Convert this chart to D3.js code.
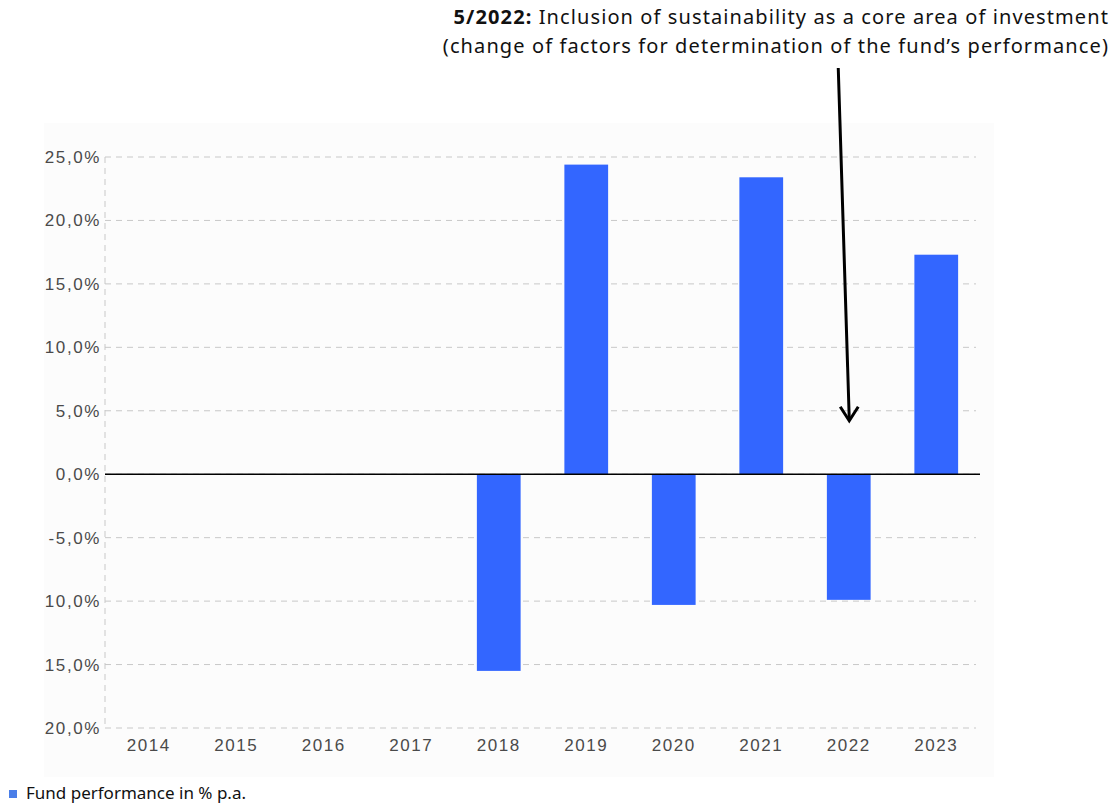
<!DOCTYPE html>
<html>
<head>
<meta charset="utf-8">
<script src="https://cdn.jsdelivr.net/npm/d3@7"></script>
<style>
  body { margin: 0; background: #fff; }
  svg { display: block; }
</style>
</head>
<body>
<div id="chart"></div>
<script>
const years = ["2014", "2015", "2016", "2017", "2018", "2019", "2020", "2021", "2022", "2023"];
const performance = [null, null, null, null, -15.5, 24.4, -10.3, 23.4, -9.9, 17.3];
const yTicks = [-20, -15, -10, -5, 0, 5, 10, 15, 20, 25];
const tickLabels = ["20,0%", "15,0%", "10,0%", "-5,0%", "0,0%", "5,0%", "10,0%", "15,0%", "20,0%", "25,0%"];
const noteBold = "5/2022:";
const noteLine1 = " Inclusion of sustainability as a core area of investment";
const noteLine2 = "(change of factors for determination of the fund\u2019s performance)";
const legendLabel = "Fund performance in % p.a.";
const noteYear = "2022";
const noteValue = 5;

const W = 1115, H = 805;
const margin = { top: 157, right: 135, bottom: 77, left: 105 };

const svg0 = d3.select("#chart").append("svg")
  .attr("width", W).attr("height", H);

// faint panel behind the plot
svg0.append("rect")
  .attr("x", 44).attr("y", 123).attr("width", 950).attr("height", 654)
  .attr("fill", "#fcfcfc");

const svg = svg0.append("g")
  .attr("transform", `translate(${margin.left},${margin.top})`);

const x = d3.scaleBand().domain(years).range([0, 875]).paddingInner(0.5).paddingOuter(0.25);
const y = d3.scaleLinear().domain([-20, 25]).range([571, 0]);

// grid
svg.append("g")
  .selectAll("line")
  .data(yTicks)
  .enter().append("line")
  .attr("x1", 0).attr("x2", 871)
  .attr("y1", d => y(d)).attr("y2", d => y(d))
  .attr("stroke", "#c8c8c8")
  .attr("stroke-dasharray", "6,5");

svg.append("line")
  .attr("x1", 0).attr("x2", 0)
  .attr("y1", y(25)).attr("y2", y(-20))
  .attr("stroke", "#c8c8c8")
  .attr("stroke-dasharray", "6,5");

const tickFont = (sel) => sel
  .attr("font-family", "Liberation Sans, Arial, sans-serif")
  .attr("font-size", 17)
  .attr("letter-spacing", 1.6)
  .attr("fill", "#4a4a4a");

// y axis
const yAxis = svg.append("g")
  .call(d3.axisLeft(y).tickValues(yTicks).tickSize(0).tickPadding(4)
    .tickFormat((d, i) => tickLabels[i]));
yAxis.select(".domain").remove();
yAxis.selectAll("text").call(tickFont);

// x axis
const xAxis = svg.append("g")
  .attr("transform", `translate(0,${y(-20)})`)
  .call(d3.axisBottom(x).tickSize(0).tickPadding(11));
xAxis.select(".domain").remove();
xAxis.selectAll("text").call(tickFont);

// bars
const data = years.map((yr, i) => ({ year: yr, value: performance[i] })).filter(d => d.value != null);
svg.selectAll(".bar")
  .data(data)
  .enter().append("rect")
  .attr("class", "bar")
  .attr("x", d => x(d.year))
  .attr("width", x.bandwidth())
  .attr("y", d => y(Math.max(0, d.value)))
  .attr("height", d => Math.abs(y(d.value) - y(0)))
  .attr("fill", "#3366ff");

// zero line
svg.append("line")
  .attr("x1", 0).attr("x2", 875)
  .attr("y1", y(0)).attr("y2", y(0))
  .attr("stroke", "#000").attr("stroke-width", 1.5);

// annotation arrow
const ax = x(noteYear) + x.bandwidth() / 2 + 0.5;
const ay = y(noteValue) + 10;
const sx = ax - 11, sy = 68 - margin.top;
svg.append("line")
  .attr("x1", sx).attr("y1", sy)
  .attr("x2", ax).attr("y2", ay - 2)
  .attr("stroke", "#000").attr("stroke-width", 3);
svg.append("path")
  .attr("d", `M${ax - 9},${ay - 14} L${ax},${ay} L${ax + 9},${ay - 14}`)
  .attr("fill", "none").attr("stroke", "#000").attr("stroke-width", 3);

// annotation text
const note = svg0.append("g")
  .attr("font-family", "Noto Sans, sans-serif")
  .attr("font-size", 20)
  .attr("letter-spacing", 1.1)
  .attr("fill", "#111")
  .attr("text-anchor", "end");
const t1 = note.append("text").attr("x", 1109).attr("y", 24);
t1.append("tspan").attr("font-weight", "bold").text(noteBold);
t1.append("tspan").text(noteLine1);
note.append("text").attr("x", 1109).attr("y", 53).text(noteLine2);

// legend
const legend = svg0.append("g");
legend.append("rect")
  .attr("x", 9).attr("y", 790).attr("width", 8).attr("height", 8)
  .attr("fill", "#4a7ee8");
legend.append("text")
  .attr("x", 26).attr("y", 799)
  .attr("font-family", "Noto Sans, sans-serif")
  .attr("font-size", 17)
  .attr("fill", "#111")
  .text(legendLabel);
</script>
</body>
</html>
